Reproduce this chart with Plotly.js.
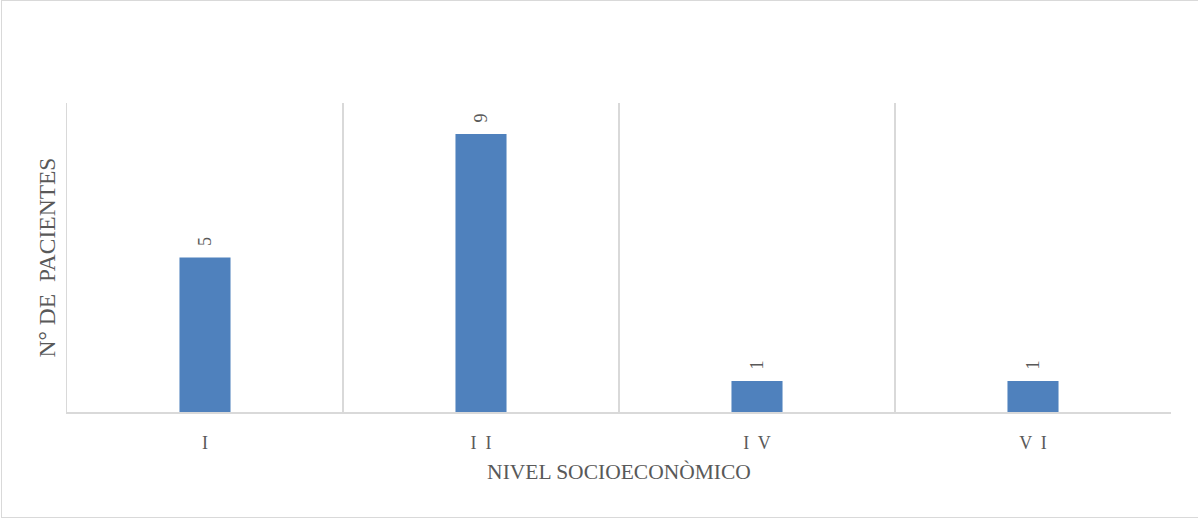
<!DOCTYPE html>
<html>
<head>
<meta charset="utf-8">
<script src="https://cdn.plot.ly/plotly-3.0.1.min.js"></script>
<style>
  html, body { margin: 0; padding: 0; background: #ffffff; }
  #frame { position: absolute; left: 1px; top: 0px; width: 1196px; height: 516px; border: 1px solid #d9d9d9; border-right: none; }
  #chart { position: absolute; left: 0; top: 0; width: 1199px; height: 519px; }
</style>
</head>
<body>
<div id="frame"></div>
<div id="chart"></div>
<script>
const categories = ["I", "II", "IV", "VI"];
const tickLabels = ["I", "I  I", "I  V", "V  I"];
const patients = [5, 9, 1, 1];

const xPos = categories.map((c, i) => i);
const gridVals = [-0.5, 0.5, 1.5, 2.5, 3.5];

const textColor = "#595959";
const serif = "Liberation Serif, DejaVu Serif, serif";

const trace = {
  type: "bar",
  x: xPos,
  y: patients,
  marker: { color: "#4f81bd", line: { width: 0 } },
  width: 0.185,
  hoverinfo: "skip"
};

const gridTrace = {
  type: "scatter",
  x: [],
  y: [],
  xaxis: "x2",
  yaxis: "y",
  showlegend: false
};

const annotations = xPos.map((x, i) => ({
  x: x,
  y: patients[i],
  xref: "x",
  yref: "y",
  text: String(patients[i]),
  textangle: -90,
  showarrow: false,
  yanchor: "bottom",
  yshift: 9,
  font: { family: serif, size: 18, color: textColor }
}));

const layout = {
  width: 1199,
  height: 519,
  margin: { l: 67, r: 28, t: 103, b: 107 },
  paper_bgcolor: "rgba(0,0,0,0)",
  plot_bgcolor: "rgba(0,0,0,0)",
  showlegend: false,
  xaxis: {
    range: [-0.5, 3.5],
    tickvals: xPos,
    ticktext: tickLabels,
    showgrid: false,
    zeroline: false,
    showline: true,
    linecolor: "#d9d9d9",
    linewidth: 1.5,
    ticks: "",
    ticklabelstandoff: 14,
    tickfont: { family: serif, size: 18, color: textColor },
    title: { text: "NIVEL SOCIOECONÒMICO", font: { family: serif, size: 21.5, color: textColor }, standoff: 12 },
    fixedrange: true
  },
  xaxis2: {
    overlaying: "x",
    range: [-0.5, 3.5],
    tickvals: gridVals,
    showticklabels: false,
    showgrid: true,
    gridcolor: "#d9d9d9",
    gridwidth: 1.5,
    zeroline: false,
    showline: false,
    ticks: ""
  },
  yaxis: {
    range: [0, 10],
    showgrid: false,
    zeroline: false,
    showticklabels: false,
    showline: true,
    linecolor: "#d9d9d9",
    linewidth: 1.5,
    ticks: "",
    title: { text: "N° DE  PACIENTES", font: { family: serif, size: 23.5, color: textColor }, standoff: 3 },
    fixedrange: true
  },
  annotations: annotations
};

Plotly.newPlot("chart", [trace, gridTrace], layout, { displayModeBar: false, staticPlot: true });
</script>
</body>
</html>
